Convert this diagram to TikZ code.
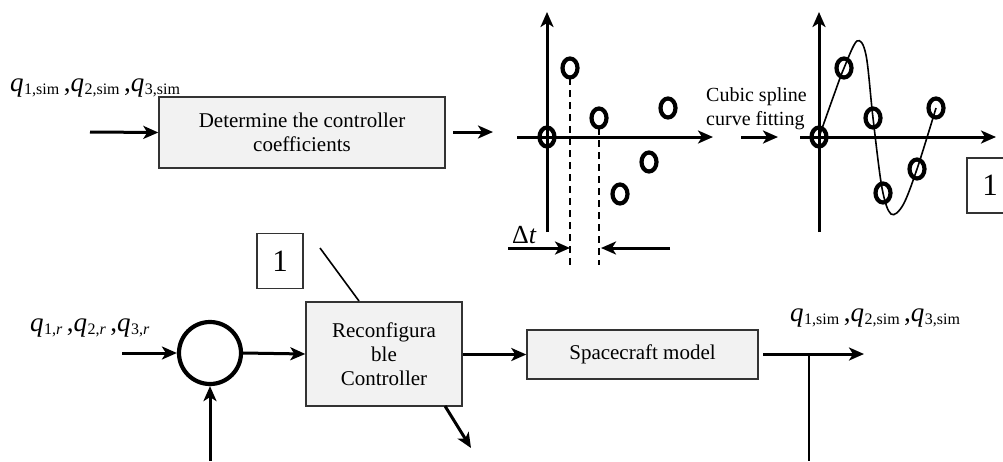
\documentclass[tikz,border=0pt]{standalone}
\usepackage{fontspec}
\setmainfont{Liberation Serif}
\usetikzlibrary{arrows.meta}
\newcommand{\qv}[2]{\textit{q}\kern0.5pt\raisebox{-0.3ex}{\fontsize{16}{16}\selectfont #1,#2}}
\newcommand{\qlist}[1]{\fontsize{27}{30}\selectfont\qv{1}{#1}\,,\qv{2}{#1}\,,\qv{3}{#1}}
\begin{document}
\begin{tikzpicture}[x=1pt,y=-1pt,
  arr/.style={line width=3pt,-{Stealth[length=15pt,width=13pt,inset=4pt]}},
  blk/.style={draw=black!80,line width=1.4pt,fill=black!5,font=\fontsize{21}{24}\selectfont,align=center,inner sep=0pt},
  onebox/.style={draw=black!80,line width=1.4pt,minimum width=46pt,minimum height=55pt,inner sep=0pt,font=\fontsize{31}{31}\selectfont},
  axis/.style={line width=3pt,-{Stealth[length=15pt,width=13pt,inset=4pt]}},
  mark1/.style={line width=4.2pt},
  dsh/.style={line width=2.2pt,dash pattern=on 7pt off 5pt}]
\useasboundingbox (0,0) rectangle (1003,461);

% ---------- top row ----------
\node[anchor=base west,inner sep=0pt] (qsimtop) at (10,91) {\qlist{sim}};
\coordinate (inTop) at (90,132);
\node[blk,minimum width=286pt,minimum height=71pt] (det) at (302,132.5) {Determine the controller\\coefficients};
\draw[arr] (inTop) -- (det.west);
\coordinate (detout) at (453,132);
\coordinate (detarr) at (493,132);
\draw[arr] (detout) -- (detarr);

% plot 1
\coordinate (y1b) at (547,232);
\coordinate (y1t) at (547,12);
\coordinate (x1l) at (517,137);
\coordinate (x1r) at (713,137);
\draw[axis] (y1b) -- (y1t);
\draw[axis] (x1l) -- (x1r);
\coordinate (d1t) at (570,78);
\coordinate (d2t) at (599,128);
\coordinate (d1b) at (570,265);
\coordinate (d2b) at (599,265);
\draw[dsh] (d1t) -- (d1b);
\draw[dsh] (d2t) -- (d2b);
\foreach \x/\y in {547/137,570/68,599/118,668/108,649/162,620/194}
  \draw[mark1] (\x,\y) ellipse [x radius=7.5pt, y radius=9.5pt];
\node[anchor=base west,inner sep=0pt,font=\fontsize{26}{26}\selectfont] (dt) at (512,243) {Δ\textit{t}};
\coordinate (dtl) at (508,248);
\coordinate (dtlend) at (570,248);
\coordinate (dtr) at (670,248);
\coordinate (dtrend) at (601,248);
\draw[arr] (dtl) -- (dtlend);
\draw[arr] (dtr) -- (dtrend);

% spline text and arrow
\node[align=left,inner sep=0pt,anchor=north west,font=\fontsize{20}{24}\selectfont] (csf) at (706,87) {Cubic spline\\curve fitting};
\coordinate (sa) at (741,137);
\coordinate (sb) at (778,137);
\draw[arr] (sa) -- (sb);

% plot 2
\coordinate (y2b) at (819,232);
\coordinate (y2t) at (819,12);
\coordinate (x2l) at (800,137);
\coordinate (x2r) at (996,137);
\draw[axis] (y2b) -- (y2t);
\draw[axis] (x2l) -- (x2r);
\draw[line width=1.6pt] plot[smooth,tension=0.55] coordinates
  {(819,137) (835,92) (844,68) (857,41) (866,55) (873,118) (882,188) (891,214) (903,205) (917,169) (936,108)};
\foreach \x/\y in {819/137,844/68,873/118,883/193,917/169,936/108}
  \draw[mark1] (\x,\y) ellipse [x radius=7.5pt, y radius=9.5pt];
\node[onebox] (oneR) at (990,185.5) {1};

% ---------- bottom row ----------
\node[onebox] (oneL) at (280,261) {1};
\node[anchor=base west,inner sep=0pt] (qr) at (30,331) {\fontsize{27}{30}\selectfont\textit{q}\kern0.5pt\raisebox{-0.3ex}{\fontsize{16}{16}\selectfont 1,\textit{r}}\,,\textit{q}\kern0.5pt\raisebox{-0.3ex}{\fontsize{16}{16}\selectfont 2,\textit{r}}\,,\textit{q}\kern0.5pt\raisebox{-0.3ex}{\fontsize{16}{16}\selectfont 3,\textit{r}}};
\node[circle,draw=black,line width=4.2pt,minimum size=62pt,inner sep=0pt] (sum) at (210,353) {};
\coordinate (rin) at (122,353);
\draw[arr] (rin) -- (sum.west);
\coordinate (fbb) at (210,461);
\draw[arr] (fbb) -- (sum.south);
\node[blk,minimum width=156pt,minimum height=104pt] (rc) at (384,354) {Reconfigura\\ble\\Controller};
\draw[arr] (sum.east) -- (rc.west);
\coordinate (lnA) at (320,248);
\coordinate (lnB) at (359,301);
\draw[line width=1.6pt] (lnA) -- (lnB);
\node[blk,minimum width=231pt,minimum height=49pt] (sc) at (642.5,354.5) {Spacecraft model};
\draw[arr] (rc.east |- sc.west) -- (sc.west);
\coordinate (rcd) at (445,406);
\coordinate (rcde) at (471,448);
\draw[arr] (rcd) -- (rcde);
\coordinate (sco) at (763,354);
\coordinate (scoe) at (864,354);
\draw[arr] (sco) -- (scoe);
\coordinate (tap) at (809,354);
\coordinate (tapb) at (809,461);
\draw[line width=2.2pt] (tap) -- (tapb);
\node[anchor=base west,inner sep=0pt] (qsimb) at (790,321) {\qlist{sim}};
\end{tikzpicture}
\end{document}
